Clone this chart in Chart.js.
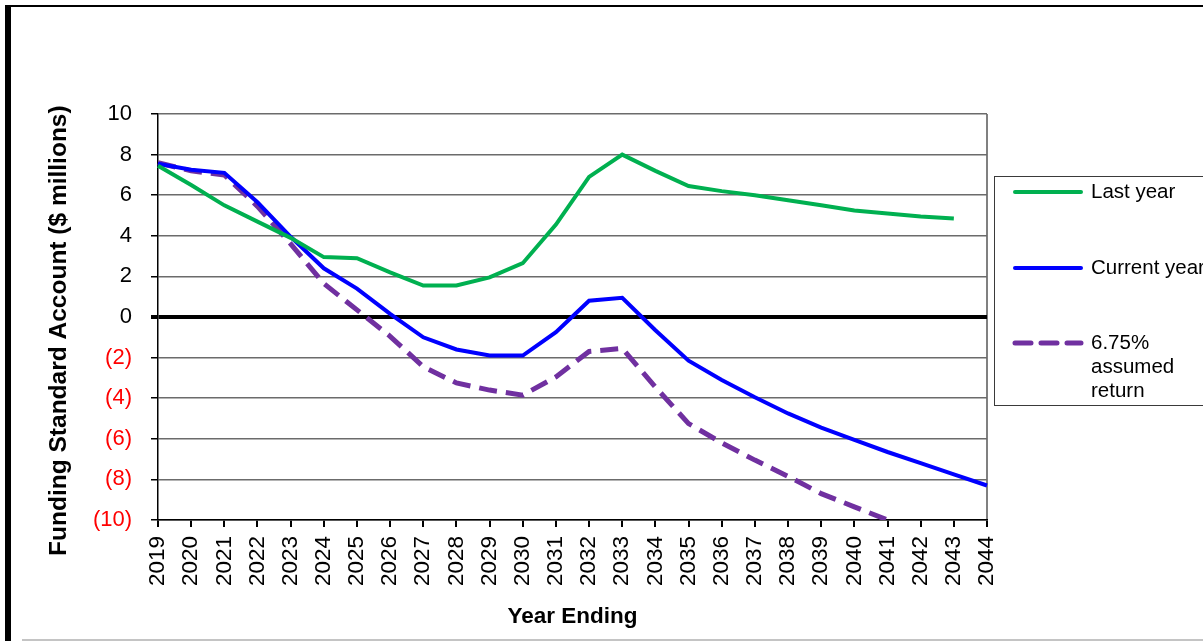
<!DOCTYPE html>
<html>
<head>
<meta charset="utf-8">
<script src="https://cdn.jsdelivr.net/npm/chart.js@4"></script>
<style>
  html, body { margin: 0; padding: 0; background: #fff; overflow: hidden; }
  #wrap { position: relative; width: 1203px; height: 641px; }
  #fsa { position: absolute; left: 0; top: 0; }
  .frame { position: absolute; }
</style>
</head>
<body>
<div id="wrap">
  <canvas id="fsa" width="1203" height="641"></canvas>
  <div class="frame" style="left:5px;top:5px;width:6px;height:636px;background:#000"></div>
  <div class="frame" style="left:5px;top:5px;width:1198px;height:2px;background:#000"></div>
  <div class="frame" style="left:22px;top:639px;width:1181px;height:2px;background:#c4c4c4"></div>
</div>
<script>
// ——— data ———
const years = ["2019", "2020", "2021", "2022", "2023", "2024", "2025", "2026", "2027",
  "2028", "2029", "2030", "2031", "2032", "2033", "2034", "2035", "2036", "2037",
  "2038", "2039", "2040", "2041", "2042", "2043", "2044"];

const lastYear = [7.45, 6.5, 5.5, 4.7, 3.9, 2.95, 2.9, 2.2, 1.55, 1.55, 1.95, 2.65, 4.55,
  6.9, 8.0, 7.2, 6.45, 6.2, 6.0, 5.75, 5.5, 5.25, 5.1, 4.95, 4.85, null];

const currentYear = [7.55, 7.25, 7.1, 5.65, 3.95, 2.4, 1.4, 0.15, -1.0, -1.6, -1.9, -1.9,
  -0.75, 0.8, 0.95, -0.65, -2.15, -3.1, -3.95, -4.75, -5.45, -6.05, -6.65, -7.2, -7.75, -8.3];

const assumedReturn = [7.6, 7.2, 7.0, 5.45, 3.6, 1.65, 0.35, -0.95, -2.45, -3.25, -3.6,
  -3.85, -2.95, -1.7, -1.55, -3.45, -5.25, -6.2, -7.05, -7.85, -8.7, -9.35, -10.0,
  null, null, null];

const seriesNames = ["Last year", "Current year", "6.75% assumed return"];
// legend text is wrapped like the original box
const legendLines = [["Last year"], ["Current year"], ["6.75%", "assumed", "return"]];

const FONT = "'Liberation Sans', Arial, sans-serif";

// ——— boxed legend on the right ———
const boxLegend = {
  id: "boxLegend",
  afterDraw(chart) {
    const ctx = chart.ctx;
    const rowsY = [192, 268, 343];
    ctx.save();
    ctx.strokeStyle = "#3a3a3a";
    ctx.lineWidth = 1;
    ctx.strokeRect(994.5, 176.5, 240, 229);

    chart.data.datasets.forEach((ds, i) => {
      const y = rowsY[i];
      ctx.beginPath();
      ctx.strokeStyle = ds.borderColor;
      ctx.lineWidth = ds.borderWidth;
      ctx.lineCap = "round";
      ctx.setLineDash(ds.borderDash ? [16, 10] : []);
      ctx.moveTo(1015, y);
      ctx.lineTo(1081, y);
      ctx.stroke();
      ctx.setLineDash([]);

      ctx.fillStyle = "#000";
      ctx.font = "20.5px " + FONT;
      ctx.textBaseline = "middle";
      ctx.textAlign = "left";
      legendLines[i].forEach((t, k) => ctx.fillText(t, 1091, y + k * 24));
    });
    ctx.restore();
  },
};

const ctx = document.getElementById("fsa").getContext("2d");
new Chart(ctx, {
  type: "line",
  data: {
    labels: years,
    datasets: [
      {
        label: seriesNames[0],
        data: lastYear,
        borderColor: "#00B050",
        borderWidth: 4,
      },
      {
        label: seriesNames[1],
        data: currentYear,
        borderColor: "#0000FF",
        borderWidth: 4,
      },
      {
        label: seriesNames[2],
        data: assumedReturn,
        borderColor: "#7030A0",
        borderWidth: 5,
        borderDash: [18, 9],
      },
    ],
  },
  options: {
    responsive: false,
    animation: false,
    devicePixelRatio: 1,
    layout: { padding: { top: 114, right: 216, bottom: 0, left: 0 } },
    elements: {
      point: { radius: 0 },
      line: { tension: 0, fill: false },
    },
    plugins: {
      legend: { display: false },
      tooltip: { enabled: false },
    },
    scales: {
      x: {
        offset: false,
        afterFit: (s) => { s.height = 121; },
        grid: {
          drawOnChartArea: true,
          // only the right edge of the plot gets a line
          color: (c) => (c.index === years.length - 1 ? "#808080" : "rgba(0,0,0,0)"),
          lineWidth: 2,
          tickColor: "#000",
          tickLength: 7,
        },
        border: { color: "#000", width: 1.5 },
        ticks: {
          autoSkip: false,
          maxRotation: 90,
          minRotation: 90,
          padding: 9,
          color: "#000",
          font: { family: FONT, size: 22.5 },
        },
        title: {
          display: true,
          text: "Year Ending",
          color: "#000",
          font: { family: FONT, size: 22.5, weight: "bold" },
          padding: { top: 0, bottom: 11 },
        },
      },
      y: {
        min: -10,
        max: 10,
        afterFit: (s) => { s.width = 158; },
        grid: {
          color: (c) => (c.tick && c.tick.value === 0 ? "#000" : "#6b6b6b"),
          lineWidth: (c) => (c.tick && c.tick.value === 0 ? 4 : 1.5),
          tickColor: "#000",
          tickLength: 7,
        },
        border: { color: "#000", width: 1.5 },
        ticks: {
          stepSize: 2,
          padding: 19,
          color: (c) => (c.tick.value < 0 ? "#FF0000" : "#000"),
          font: { family: FONT, size: 22 },
          callback: (v) => (v < 0 ? "(" + -v + ")" : v),
        },
        title: {
          display: true,
          // trailing spaces nudge the rotated title down, as in the original
          text: "Funding Standard Account ($ millions)    ",
          color: "#000",
          font: { family: FONT, size: 24.5, weight: "bold" },
          padding: { top: 45, bottom: 0 },
        },
      },
    },
  },
  plugins: [boxLegend],
});
</script>
</body>
</html>
